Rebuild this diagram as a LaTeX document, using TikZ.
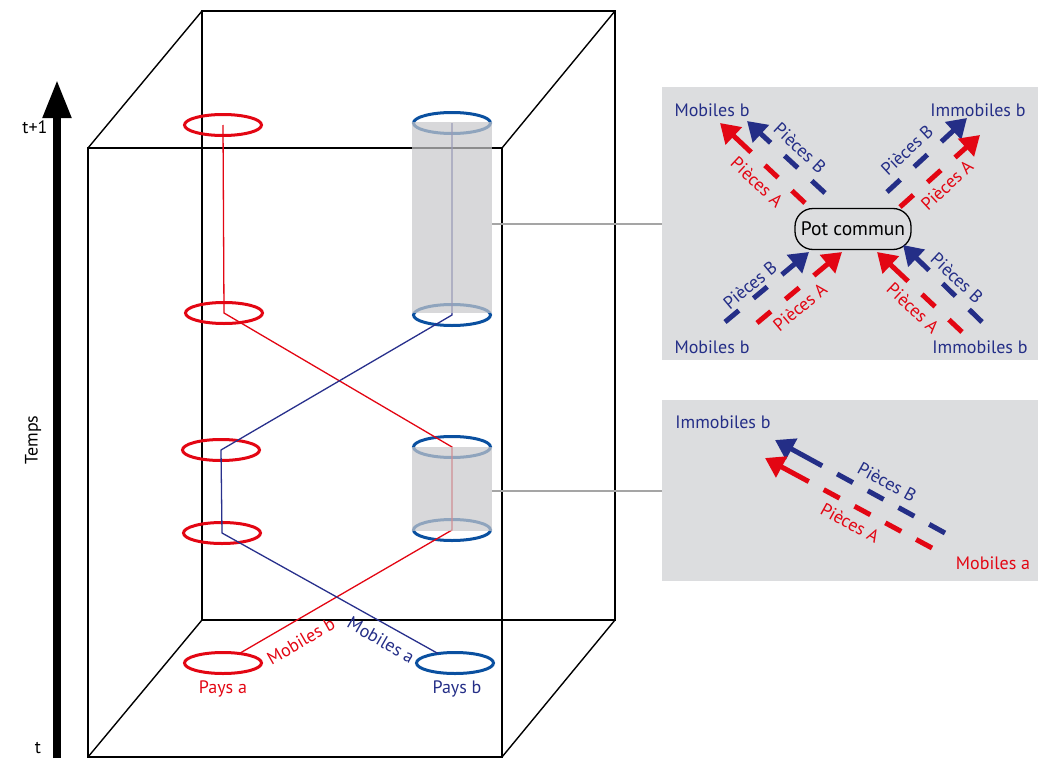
\documentclass[tikz,border=0pt]{standalone}
\usepackage{fontspec}
\setmainfont{PT Sans}
\usetikzlibrary{arrows.meta,shapes.geometric}
\definecolor{myred}{RGB}{227,6,19}
\definecolor{navy}{RGB}{36,46,135}
\definecolor{ringblue}{RGB}{10,80,160}
\definecolor{pathblue}{RGB}{40,48,140}
\definecolor{cylgrey}{RGB}{200,200,202}
\definecolor{panelgrey}{RGB}{220,221,223}
\definecolor{linkgrey}{RGB}{165,165,165}
\tikzset{
  boxline/.style={draw=black, line width=1.4pt},
  redring/.style={ellipse, draw=myred, line width=3pt, minimum width=77pt, minimum height=21pt, inner sep=0pt, outer sep=0pt},
  bluering/.style={ellipse, draw=ringblue, line width=3pt, minimum width=77pt, minimum height=21pt, inner sep=0pt, outer sep=0pt},
  redpath/.style={draw=myred, line width=1.3pt},
  bluepath/.style={draw=pathblue, line width=1.3pt},
  cyl/.style={rectangle, fill=cylgrey, fill opacity=0.7, draw=none, inner sep=0pt, outer sep=0pt, minimum width=80pt},
  panel/.style={rectangle, fill=panelgrey, draw=none, inner sep=0pt, outer sep=0pt, minimum width=376pt},
  link/.style={draw=linkgrey, line width=2pt},
  lab/.style={font=\fontsize{18}{20}\selectfont, inner sep=0pt},
  redlab/.style={lab, text=myred},
  bluelab/.style={lab, text=navy},
  redarr/.style={draw=myred, line width=5pt, -{Triangle[length=19pt,width=23pt]}},
  bluearr/.style={draw=navy, line width=5pt, -{Triangle[length=19pt,width=23pt]}},
  dashfour/.style={dash pattern=on 18pt off 19pt on 18pt off 19pt on 300pt},
  dashsix/.style={dash pattern=on 18pt off 17pt on 18pt off 17pt on 18pt off 17pt on 18pt off 17pt on 300pt},
}
\begin{document}
\begin{tikzpicture}[x=1pt,y=-1pt]
\useasboundingbox (0,0) rectangle (1038,760);

% panels
\node[panel, minimum height=273pt] (p1) at (850,223.5) {};
\node[panel, minimum height=181pt] (p2) at (850,490.5) {};

% time axis
\coordinate (tb) at (57,758);
\coordinate (tt) at (57,80);
\draw[line width=8pt, -{Triangle[length=38pt,width=27pt]}] (tb) -- (tt);
\node[lab] (t1) at (35,127) {t+1};
\node[lab] (t0) at (38,748) {t};
\node[lab, rotate=90] (temps) at (33,440) {Temps};

% box
\coordinate (F1) at (88,148);
\coordinate (F2) at (502,148);
\coordinate (F3) at (502,757);
\coordinate (F4) at (88,757);
\coordinate (B1) at (202,11);
\coordinate (B2) at (615,11);
\coordinate (B3) at (615,620);
\coordinate (B4) at (202,620);
\draw[boxline] (B1) -- (B2) -- (B3) -- (B4) -- cycle;
\draw[boxline] (F1) -- (F2) -- (F3) -- (F4) -- cycle;
\draw[boxline] (F1) -- (B1) (F2) -- (B2) (F3) -- (B3) (F4) -- (B4);

% rings
\node[redring] (a1) at (223,125) {};
\node[redring] (a2) at (224,313) {};
\node[redring] (a3) at (221,450) {};
\node[redring] (a4) at (222,533) {};
\node[redring] (pa) at (223,663) {};
\node[bluering] (b1) at (452,123) {};
\node[bluering] (b2) at (452,315) {};
\node[bluering] (b3) at (452,447) {};
\node[bluering] (b4) at (452,530) {};
\node[bluering] (pb) at (455,663) {};

% paths
\draw[redpath] (a1.center) -- (a2.center) -- (b3.center) -- (b4.center) -- (pa);
\draw[bluepath] (b1.center) -- (b2.center) -- (a3.center) -- (a4.center) -- (pb);

% cylinders
\node[cyl, minimum height=191pt] (cy1) at (452,217.5) {};
\node[cyl, minimum height=84pt] (cy2) at (452,489) {};

% links
\draw[link] (p1.west -| cy1.east) -- (p1.west);
\draw[link] (p2.west -| cy2.east) -- (p2.west);

% box labels
\node[redlab, rotate=30] (mb) at (301,641) {Mobiles b};
\node[bluelab, rotate=-30] (ma) at (381,640) {Mobiles a};
\node[redlab] (la) at (223,689) {Pays a};
\node[bluelab] (lb) at (457,689) {Pays b};

% panel 1
\node[draw, line width=1.3pt, rounded corners=18pt, minimum width=116pt, minimum height=41pt, fill=panelgrey, inner sep=0pt, font=\fontsize{19.5}{21}\selectfont] (pot) at (853,229) {Pot commun};
\node[bluelab] (c1) at (712,110) {Mobiles b};
\node[bluelab] (c2) at (978,110) {Immobiles b};
\node[bluelab] (c3) at (712,347) {Mobiles b};
\node[bluelab] (c4) at (980,347) {Immobiles b};

\coordinate (ulRs) at (805,203); \coordinate (ulRt) at (720,123);
\coordinate (ulBs) at (825,193); \coordinate (ulBt) at (747,121);
\coordinate (urBs) at (887,192); \coordinate (urBt) at (967,118);
\coordinate (urRs) at (900,207); \coordinate (urRt) at (980,135);
\coordinate (llBs) at (725,322); \coordinate (llBt) at (809,252);
\coordinate (llRs) at (757,323); \coordinate (llRt) at (842,252);
\coordinate (lrRs) at (962,332); \coordinate (lrRt) at (877,252);
\coordinate (lrBs) at (982,322); \coordinate (lrBt) at (903,245);
\draw[redarr, dashfour] (ulRs) -- (ulRt);
\draw[bluearr, dashfour] (ulBs) -- (ulBt);
\draw[bluearr, dashfour] (urBs) -- (urBt);
\draw[redarr, dashfour] (urRs) -- (urRt);
\draw[bluearr, dashfour] (llBs) -- (llBt);
\draw[redarr, dashfour] (llRs) -- (llRt);
\draw[redarr, dashfour] (lrRs) -- (lrRt);
\draw[bluearr, dashfour] (lrBs) -- (lrBt);

\node[redlab, rotate=-43] (ulA) at (757,182) {Pièces A};
\node[bluelab, rotate=-43] (ulB) at (800,148) {Pièces B};
\node[bluelab, rotate=43] (urB) at (907,150) {Pièces B};
\node[redlab, rotate=43] (urA) at (947,185) {Pièces A};
\node[bluelab, rotate=40] (llB) at (750,285) {Pièces B};
\node[redlab, rotate=40] (llA) at (800,307) {Pièces A};
\node[redlab, rotate=-43] (lrA) at (913,308) {Pièces A};
\node[bluelab, rotate=-43] (lrB) at (957,278) {Pièces B};

% panel 2
\node[bluelab] (d1) at (723,422) {Immobiles b};
\node[redlab] (d2) at (993,563) {Mobiles a};
\coordinate (p2Bs) at (945,533); \coordinate (p2Bt) at (775,440);
\coordinate (p2Rs) at (932,548); \coordinate (p2Rt) at (765,458);
\draw[bluearr, dashsix] (p2Bs) -- (p2Bt);
\draw[redarr, dashsix] (p2Rs) -- (p2Rt);
\node[bluelab, rotate=-29] (p2B) at (887,482) {Pièces B};
\node[redlab, rotate=-29] (p2A) at (850,523) {Pièces A};
\end{tikzpicture}
\end{document}
